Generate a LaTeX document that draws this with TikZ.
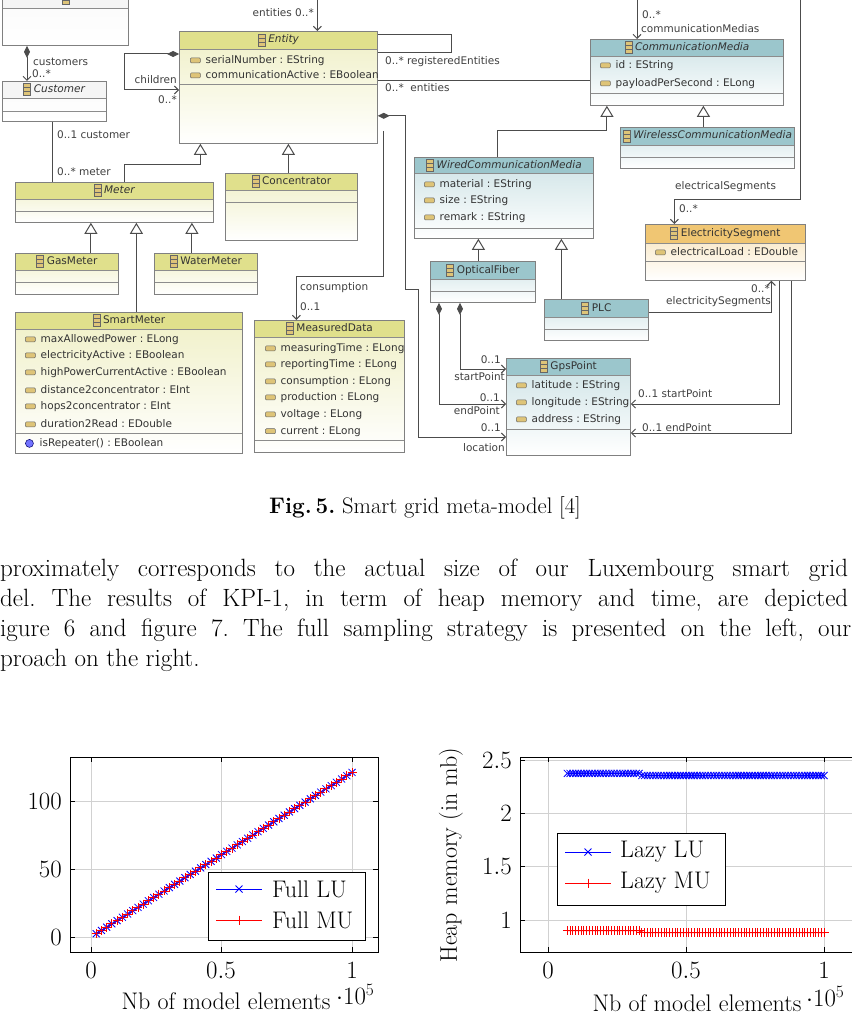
\documentclass[tikz,border=0pt]{standalone}
\usepackage{fontspec}
\newfontfamily\umlfont{DejaVu Sans}
\usetikzlibrary{arrows.meta,positioning,calc}
\frenchspacing

\definecolor{umlyellow}{RGB}{224,224,140}
\definecolor{umlcyan}{RGB}{155,198,204}
\definecolor{umlorange}{RGB}{240,198,115}
\definecolor{umlwhite}{RGB}{245,245,245}
\definecolor{icontan}{RGB}{222,196,120}

\tikzset{
  classbox/.style={draw=black!50,line width=0.8pt,anchor=north west,inner sep=0pt},
  umltext/.style={font=\umlfont\fontsize{10.5}{12}\selectfont,anchor=west,inner sep=0pt,text=black!80},
  umllabel/.style={font=\umlfont\fontsize{10.5}{12}\selectfont,inner sep=0pt,text=black!75},
  assoc/.style={draw=black!70,line width=1pt},
  nav/.style={assoc,-{Straight Barb[length=4pt,width=8pt]}},
  comp/.style={assoc,{Diamond[length=12pt,width=6pt]}-},
  compnav/.style={assoc,{Diamond[length=12pt,width=6pt]}-{Straight Barb[length=4pt,width=8pt]}},
  gen/.style={assoc,-{Triangle[open,length=11pt,width=13pt,fill=white]}},
  gridline/.style={draw=black!18,line width=0.6pt},
  plottext/.style={font=\fontsize{24}{27}\selectfont,inner sep=0pt},
}

\newcommand{\clsicon}{\tikz[baseline=-1pt]{\draw[black!60,fill=icontan,line width=0.5pt] (0pt,-4pt) rectangle (7pt,8pt);
  \draw[black!60,line width=0.4pt] (0pt,0pt) -- (7pt,0pt) (0pt,4pt) -- (7pt,4pt);}\hspace{3pt}}
\newcommand{\attricon}{\tikz[baseline=0pt]{\draw[black!60,fill=icontan,line width=0.5pt,rounded corners=1pt] (0pt,1pt) rectangle (10pt,6pt);}\hspace{5pt}}
\newcommand{\opicon}{\tikz[baseline=0pt]{\draw[blue!40!black,fill=blue!55,line width=0.5pt] (4pt,3.5pt) circle (4pt);}\hspace{6pt}}

% name, x, y, width, height, header, attribute line, colour, title
\newcommand{\umlclass}[9]{%
  \node[classbox,minimum width=#4pt,minimum height=#5pt,top color=#8!50,bottom color=white] (#1) at (#2,#3) {};
  \fill[#8] ([xshift=0.4pt,yshift=-0.4pt]#1.north west) rectangle ([xshift=-0.4pt,yshift=-#6pt]#1.north east);
  \draw[black!45,line width=0.8pt] ([yshift=-#6pt]#1.north west) -- ([yshift=-#6pt]#1.north east);
  \draw[black!45,line width=0.8pt] ([yshift=-#7pt]#1.north west) -- ([yshift=-#7pt]#1.north east);
  \draw[black!50,line width=0.8pt] (#1.north west) rectangle (#1.south east);
  \node[umltext,anchor=center] at ([yshift=-#6pt/2]#1.north) {\clsicon#9};
}
\newcommand{\crossmark}[2]{\draw[blue,line width=0.8pt] (#1-3.5,#2-3.5) -- (#1+3.5,#2+3.5) (#1-3.5,#2+3.5) -- (#1+3.5,#2-3.5);}
\newcommand{\plusmark}[2]{\draw[red,line width=0.8pt] (#1-4.5,#2) -- (#1+4.5,#2) (#1,#2-4.5) -- (#1,#2+4.5);}

\begin{document}
\begin{tikzpicture}[x=1pt,y=-1pt]
\useasboundingbox (0,0) rectangle (851,1014);
\fill[white] (0,0) rectangle (851,1014);

% classes
\umlclass{root}{2}{-12}{126}{57}{20}{20}{umlwhite}{}
\umlclass{customer}{2}{81}{104}{40}{17}{30}{umlwhite}{\textit{Customer}}
\umlclass{entity}{179}{31}{198}{112}{18}{53}{umlyellow}{\textit{Entity}}
\umlclass{conc}{225}{173}{132}{67}{17}{29}{umlyellow}{Concentrator}
\umlclass{meter}{15}{182}{198}{40}{17}{29}{umlyellow}{\textit{Meter}}
\umlclass{gasmeter}{15}{253}{103}{41}{17}{29}{umlyellow}{GasMeter}
\umlclass{watermeter}{154}{253}{103}{41}{17}{29}{umlyellow}{WaterMeter}
\umlclass{smartmeter}{15}{312}{227}{141}{17}{121}{umlyellow}{SmartMeter}
\umlclass{mdata}{254}{320}{150}{132}{17}{120}{umlyellow}{MeasuredData}
\umlclass{commedia}{590}{39}{193}{66}{17}{54}{umlcyan}{\textit{CommunicationMedia}}
\umlclass{wireless}{620}{127}{174}{41}{18}{30}{umlcyan}{\textit{WirelessCommunicationMedia}}
\umlclass{wired}{414}{157}{179}{81}{16}{71}{umlcyan}{\textit{WiredCommunicationMedia}}
\umlclass{fiber}{430}{261}{105}{41}{18}{30}{umlcyan}{OpticalFiber}
\umlclass{plc}{544}{299}{104}{41}{18}{30}{umlcyan}{PLC}
\umlclass{elseg}{645}{224}{160}{56}{19}{37}{umlorange}{ElectricitySegment}
\umlclass{gps}{506}{358}{124}{97}{17}{71}{umlcyan}{GpsPoint}

% attributes
\node[umltext] at (190,61) {\attricon serialNumber : EString};
\node[umltext] at (190,75) {\attricon communicationActive : EBoolean};
\node[umltext] at (600,66) {\attricon id : EString};
\node[umltext] at (600,84) {\attricon payloadPerSecond : ELong};
\node[umltext] at (424,185) {\attricon material : EString};
\node[umltext] at (424,201) {\attricon size : EString};
\node[umltext] at (424,218) {\attricon remark : EString};
\node[umltext] at (655,252) {\attricon electricalLoad : EDouble};
\node[umltext] at (516,386) {\attricon latitude : EString};
\node[umltext] at (516,403) {\attricon longitude : EString};
\node[umltext] at (516,420) {\attricon address : EString};
\foreach \y/\t in {340/maxAllowedPower : ELong,356/electricityActive : EBoolean,
  373/highPowerCurrentActive : EBoolean,390/distance2concentrator : EInt,
  407/hops2concentrator : EInt,424/duration2Read : EDouble}
  \node[umltext] at (25,\y) {\attricon \t};
\node[umltext] at (25,444) {\opicon isRepeater() : EBoolean};
\foreach \y/\t in {349/measuringTime : ELong,365/reportingTime : ELong,382/consumption : ELong,
  398/production : ELong,415/voltage : ELong,432/current : ELong}
  \node[umltext] at (265,\y) {\attricon \t};

% connectors
\coordinate (cmtop) at (637,-5);
\coordinate (estop) at (800,-5);
\draw[compnav] ([yshift=-5pt]root.north east) -| ([xshift=39pt]entity.north);
\draw[compnav] ([xshift=25pt]root.south west) -- ([xshift=25pt]customer.north west);
\draw[compnav] ([yshift=-23pt]entity.north west) -- ++(-55,0) |- ([yshift=-59pt]entity.north west);
\draw[assoc] ([yshift=-4pt]entity.north east) -- ++(74,0) -- ++(0,18) -- ([yshift=-22pt]entity.north east);
\draw[assoc] ([yshift=-50pt]entity.north east) -- ([yshift=-50pt]entity.north east -| commedia.west);
\draw[nav] (cmtop) -- (cmtop |- commedia.north);
\draw[nav] (estop) |- ([xshift=-51pt,yshift=25pt]elseg.north) -- ([xshift=-51pt]elseg.north);
\draw[compnav] ([yshift=28pt]entity.south east) -- ++(28,0) -- ++(0,174) -- ++(13,0) |- ([yshift=-79pt]gps.north west);
\draw[nav] ([xshift=6pt,yshift=13pt]entity.south east) -- ++(0,146) -| ([xshift=-33pt]mdata.north);
\draw[assoc] ([xshift=50pt]customer.south west) -- ([xshift=37pt]meter.north west);
\draw[gen] ([xshift=109pt]meter.north west) -- ++(0,-18) -| ([xshift=-78pt]entity.south);
\draw[gen] ([xshift=-3pt]conc.north) -- ([xshift=-3pt]conc.north |- entity.south);
\draw[gen] ([xshift=24pt]gasmeter.north) -- ([xshift=24pt]gasmeter.north |- meter.south);
\draw[gen] ([xshift=-14pt]watermeter.north) -- ([xshift=-14pt]watermeter.north |- meter.south);
\draw[gen] ([xshift=7.5pt]smartmeter.north) -- ([xshift=7.5pt]smartmeter.north |- meter.south);
\draw[gen] ([xshift=-6pt]wired.north) -- ++(0,-26) -| ([xshift=-80pt]commedia.south);
\draw[gen] ([xshift=-4pt]wireless.north) -- ([xshift=-4pt]wireless.north |- commedia.south);
\draw[gen] ([xshift=-4.5pt]fiber.north) -- ([xshift=-4.5pt]fiber.north |- wired.south);
\draw[gen] ([xshift=-35pt]plc.north) -- ([xshift=-35pt]plc.north |- wired.south);
\draw[nav] ([yshift=-13pt]plc.north east) -| ([xshift=46pt]elseg.south);
\draw[compnav] ([xshift=9pt]fiber.south west) |- ([yshift=-46pt]gps.north west);
\draw[compnav] ([xshift=30pt]fiber.south west) |- ([yshift=-11pt]gps.north west);
\draw[nav] ([xshift=54pt]elseg.south) |- ([yshift=-46pt]gps.north east);
\draw[nav] ([xshift=66pt]elseg.south) |- ([yshift=-75pt]gps.north east);

% role labels
\node[umllabel,anchor=east] at (314,13) {entities 0..*};
\node[umllabel,anchor=west] at (33,62) {customers};
\node[umllabel,anchor=west] at (32,74) {0..*};
\node[umllabel,anchor=east] at (177,80) {children};
\node[umllabel,anchor=west] at (158,100) {0..*};
\node[umllabel,anchor=west] at (385,62) {0..* registeredEntities};
\node[umllabel,anchor=west] at (385,88) {0..*\ \ entities};
\node[umllabel,anchor=west] at (642,15) {0..*};
\node[umllabel,anchor=west] at (641,29) {communicationMedias};
\node[umllabel,anchor=west] at (675,187) {electricalSegments};
\node[umllabel,anchor=west] at (679,209) {0..*};
\node[umllabel,anchor=west] at (300,288) {consumption};
\node[umllabel,anchor=west] at (300,307) {0..1};
\node[umllabel,anchor=west] at (57,135) {0..1 customer};
\node[umllabel,anchor=west] at (57,172) {0..* meter};
\node[umllabel,anchor=east] at (770,289) {0..*};
\node[umllabel,anchor=west] at (666,302) {electricitySegments};
\node[umllabel,anchor=east] at (501,360) {0..1};
\node[umllabel,anchor=east] at (505,377) {startPoint};
\node[umllabel,anchor=east] at (500,398) {0..1};
\node[umllabel,anchor=east] at (500,411) {endPoint};
\node[umllabel,anchor=east] at (501,428) {0..1};
\node[umllabel,anchor=east] at (505,448) {location};
\node[umllabel,anchor=west] at (638,394) {0..1 startPoint};
\node[umllabel,anchor=west] at (642,428) {0..1 endPoint};

% caption and text
\node[font=\fontsize{22.5}{27}\selectfont,inner sep=0pt] (caption) at (425,508) {\textbf{Fig.\,5.} Smart grid meta-model [4]};
\node[font=\fontsize{25}{30}\selectfont,anchor=west,inner sep=0pt] (para1) at (0,570)
  {\makebox[848pt][s]{proximately corresponds to the actual size of our Luxembourg smart grid}};
\node[font=\fontsize{25}{30}\selectfont,anchor=west,inner sep=0pt] (para2) at (0,600)
  {\makebox[848pt][s]{del. The results of KPI-1, in term of heap memory and time, are depicted}};
\node[font=\fontsize{25}{30}\selectfont,anchor=west,inner sep=0pt] (para3) at (0,630)
  {\makebox[851pt][s]{igure 6 and figure 7. The full sampling strategy is presented on the left, our}};
\node[font=\fontsize{25}{30}\selectfont,anchor=west,inner sep=0pt] (para4) at (0,660) {proach on the right.};

% left plot
\foreach \x in {91,221,352} \draw[gridline] (\x,757) -- (\x,952);
\foreach \y in {801,869,937} \draw[gridline] (70,\y) -- (378,\y);
\foreach \x/\t in {91/0,221/0.5,352/1} {
  \draw[line width=0.6pt] (\x,952) -- (\x,947) (\x,757) -- (\x,762);
  \node[plottext] at (\x,970) {$\t$};}
\foreach \y/\t in {801/100,869/50,937/0} {
  \draw[line width=0.6pt] (70,\y) -- (75,\y) (378,\y) -- (373,\y);
  \node[plottext,anchor=east] at (62,\y) {$\t$};}
\draw[blue,line width=0.8pt] (96.2,934) -- (352,772.4);
\draw[red,line width=0.8pt] (96.2,934) -- (352,772.4);
\foreach \i in {1,...,50} {
  \pgfmathsetmacro\px{91+261*\i*0.02}
  \pgfmathsetmacro\py{937-1.36*121*\i*0.02}
  \crossmark{\px}{\py}
  \plusmark{\px}{\py}}
\draw[line width=0.6pt] (70,757) rectangle (378,952);
\draw[fill=white,line width=0.6pt] (208,872) rectangle (365,940);
\draw[blue,line width=0.8pt] (216,889) -- (262,889); \crossmark{239}{889}
\draw[red,line width=0.8pt] (216,920) -- (262,920); \plusmark{239}{920}
\node[plottext,anchor=west] at (272,889) {Full LU};
\node[plottext,anchor=west] at (272,920) {Full MU};
\node[plottext] at (226,1001) {Nb of model elements};
\node[plottext,anchor=west] at (336,994) {$\cdot 10^{5}$};

% right plot
\foreach \x in {548,686,824} \draw[gridline] (\x,757) -- (\x,952);
\foreach \y in {760,813,866,920} \draw[gridline] (520,\y) -- (860,\y);
\foreach \x/\t in {548/0,686/0.5,824/1} {
  \draw[line width=0.6pt] (\x,952) -- (\x,947) (\x,757) -- (\x,762);
  \node[plottext] at (\x,970) {$\t$};}
\foreach \y/\t in {760/2.5,813/2,866/1.5,920/1} {
  \draw[line width=0.6pt] (520,\y) -- (525,\y);
  \node[plottext,anchor=east] at (512,\y) {$\t$};}
\draw[blue,line width=0.8pt] (567.3,773.4) -- (639.1,773.4) -- (644.6,775.5) -- (824,775.5);
\draw[red,line width=0.8pt] (567.3,930.7) -- (639.1,930.7) -- (644.6,932.8) -- (824,932.8);
\foreach \i in {7,...,100} {
  \pgfmathsetmacro\px{548+2.76*\i}
  \pgfmathsetmacro\pb{\i<34 ? 773.4 : 775.5}
  \pgfmathsetmacro\pr{\i<34 ? 930.7 : 932.8}
  \crossmark{\px}{\pb}
  \plusmark{\px}{\pr}}
\draw[line width=0.6pt] (520,757) rectangle (860,952);
\draw[fill=white,line width=0.6pt] (557,833) rectangle (725,905);
\draw[blue,line width=0.8pt] (565,852) -- (611,852); \crossmark{588}{852}
\draw[red,line width=0.8pt] (565,883) -- (611,883); \plusmark{588}{883}
\node[plottext,anchor=west] at (620,852) {Lazy LU};
\node[plottext,anchor=west] at (620,883) {Lazy MU};
\node[plottext,rotate=90] at (451,855) {Heap memory (in mb)};
\node[plottext] at (697,1003) {Nb of model elements};
\node[plottext,anchor=west] at (806,996) {$\cdot 10^{5}$};
\end{tikzpicture}
\end{document}
